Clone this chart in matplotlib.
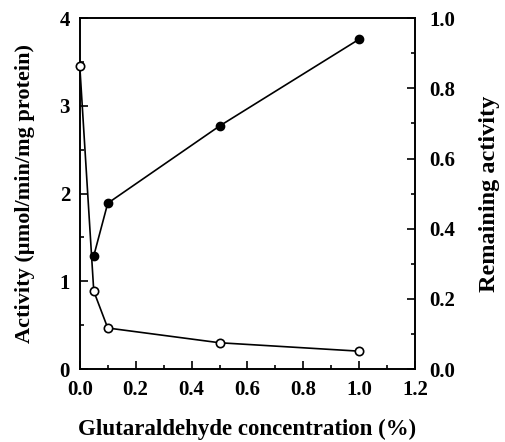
import numpy as np
import matplotlib
matplotlib.use('Agg')
import matplotlib.pyplot as plt
from matplotlib.ticker import MultipleLocator, FormatStrFormatter

plt.rcParams['font.family'] = ['Liberation Serif', 'DejaVu Serif']
plt.rcParams['font.weight'] = 'bold'

# activity (left axis), filled circles
conc_act = [0.05, 0.1, 0.5, 1.0]
activity = [1.29, 1.89, 2.77, 3.76]

# remaining activity (right axis), open circles
conc_rem = [0.0, 0.05, 0.1, 0.5, 1.0]
remaining = [0.863, 0.222, 0.117, 0.075, 0.051]

fig = plt.figure(figsize=(5.05, 4.42), dpi=100)
ax = fig.add_axes([0.158, 0.165, 0.664, 0.794])
ax2 = ax.twinx()

ax.plot(conc_act, activity, '-o', color='black', lw=1.2, ms=6,
        mfc='black', mec='black', zorder=3, clip_on=False)
ax2.plot(conc_rem, remaining, '-o', color='black', lw=1.2, ms=6,
         mfc='white', mec='black', mew=1.2, zorder=3, clip_on=False)

ax.set_xlim(0, 1.2)
ax.set_ylim(0, 4)
ax2.set_ylim(0, 1.0)

ax.xaxis.set_major_locator(MultipleLocator(0.2))
ax.xaxis.set_minor_locator(MultipleLocator(0.1))
ax.yaxis.set_major_locator(MultipleLocator(1))
ax.yaxis.set_minor_locator(MultipleLocator(0.5))
ax2.yaxis.set_major_locator(MultipleLocator(0.2))
ax2.yaxis.set_minor_locator(MultipleLocator(0.1))
ax.xaxis.set_major_formatter(FormatStrFormatter('%.1f'))
ax.yaxis.set_major_formatter(FormatStrFormatter('%d'))
ax2.yaxis.set_major_formatter(FormatStrFormatter('%.1f'))

for a in (ax, ax2):
    a.tick_params(which='major', direction='in', length=6, width=1.2, labelsize=15)
    a.tick_params(which='minor', direction='in', length=3, width=1.2)
    for s in a.spines.values():
        s.set_linewidth(1.2)
ax.tick_params(axis='x', which='both', top=False, pad=8)
ax2.tick_params(axis='y', pad=10)
ax.tick_params(axis='y', pad=7)

ax.set_xlabel('Glutaraldehyde concentration (%)', fontsize=16.5, fontweight='bold')
ax.set_ylabel('Activity (\u00b5mol/min/mg protein)', fontsize=16, fontweight='bold')
ax2.set_ylabel('Remaining activity', fontsize=17.5, fontweight='bold')
ax.xaxis.set_label_coords(0.5, -0.143)
ax.yaxis.set_label_coords(-0.135, 0.5)
ax2.yaxis.set_label_coords(1.19, 0.5)

fig.savefig('out.png', dpi=100)
